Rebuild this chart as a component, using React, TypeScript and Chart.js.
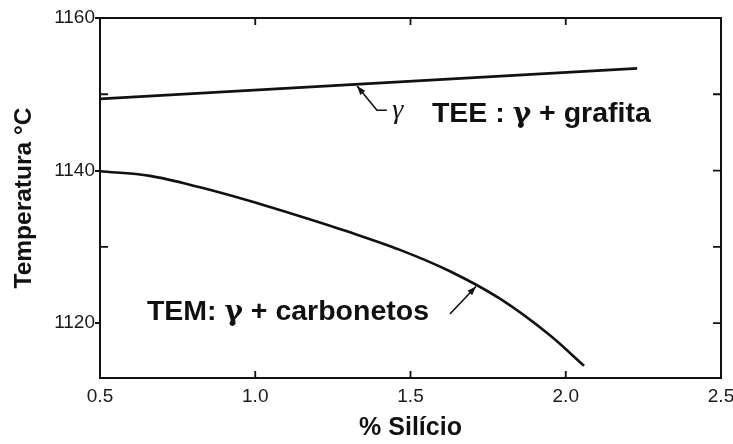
import { useEffect, useRef } from "react";
import { Chart, registerables } from "chart.js";

Chart.register(...registerables);

// Eutectic temperatures of cast iron versus silicon content
const teeSilicon = [0.5, 2.23];
const teeTemp = [1149.4, 1153.4];

const temSilicon = [0.5, 0.661, 0.822, 0.983, 1.144, 1.305, 1.466, 1.627, 1.788, 1.949, 2.059];
const temTemp = [1139.9, 1139.3, 1137.8, 1136.0, 1134.0, 1131.9, 1129.6, 1126.8, 1123.2, 1118.4, 1114.4];

const xTickValues = [0.5, 1.0, 1.5, 2.0, 2.5];
const yTickValues = [1120, 1130, 1140, 1150, 1160];
const yLabelledTicks = [1120, 1140, 1160];

const xTitle = "% Silício";
const yTitle = "Temperatura °C";

// phase labels, split so the Greek letter can use its own face
const teeText = ["TEE : ", "γ", " + grafita"];
const temText = ["TEM: ", "γ", " + carbonetos"];
const gammaText = "γ";

const INK = "#111111";
const SANS = "'Liberation Sans', Arial, sans-serif";
const TICK_FONT = { family: SANS, size: 19 };

// Frame, inward tick marks, leader arrows and phase labels
const annotationPlugin = {
  id: "phaseAnnotations",
  afterDatasetsDraw(chart: any) {
    const { ctx, chartArea } = chart;
    const xs = chart.scales.x;
    const ys = chart.scales.y;
    const { left, right, top, bottom } = chartArea;
    const px = (v: number) => xs.getPixelForValue(v);
    const py = (v: number) => ys.getPixelForValue(v);

    ctx.save();
    ctx.strokeStyle = INK;
    ctx.fillStyle = INK;
    ctx.lineCap = "butt";

    // top and right edges of the frame
    ctx.lineWidth = 2;
    ctx.beginPath();
    ctx.moveTo(left, top);
    ctx.lineTo(right, top);
    ctx.lineTo(right, bottom);
    ctx.stroke();

    // inward ticks
    ctx.lineWidth = 1.8;
    ctx.beginPath();
    xTickValues.forEach((v) => {
      if (v <= xs.min || v >= xs.max) return;
      const x = px(v);
      ctx.moveTo(x, bottom);
      ctx.lineTo(x, bottom - 7);
      ctx.moveTo(x, top);
      ctx.lineTo(x, top + 7);
    });
    yTickValues.forEach((v) => {
      if (v >= ys.max) return;
      const y = py(v);
      ctx.moveTo(right, y);
      ctx.lineTo(right - 8, y);
      if (!yLabelledTicks.includes(v)) {
        ctx.moveTo(left, y);
        ctx.lineTo(left + 8, y);
      }
    });
    ctx.stroke();

    const arrow = (pts: number[][]) => {
      const p = pts.map(([a, b]) => [px(a), py(b)]);
      ctx.lineWidth = 1.6;
      ctx.beginPath();
      ctx.moveTo(p[0][0], p[0][1]);
      for (let i = 1; i < p.length; i++) ctx.lineTo(p[i][0], p[i][1]);
      ctx.stroke();
      const ang = Math.atan2(p[0][1] - p[1][1], p[0][0] - p[1][0]);
      const len = 9;
      const half = 3.2;
      const bx = p[0][0] - len * Math.cos(ang);
      const by = p[0][1] - len * Math.sin(ang);
      ctx.beginPath();
      ctx.moveTo(p[0][0], p[0][1]);
      ctx.lineTo(bx + half * Math.sin(ang), by - half * Math.cos(ang));
      ctx.lineTo(bx - half * Math.sin(ang), by + half * Math.cos(ang));
      ctx.closePath();
      ctx.fill();
    };

    // leader from the γ label to the TEE line
    arrow([
      [1.328, 1151.1],
      [1.392, 1147.9],
      [1.424, 1147.9],
    ]);
    // leader from the TEM label to its curve
    arrow([
      [1.711, 1124.8],
      [1.627, 1121.2],
    ]);

    const sansBold = `bold 28.5px ${SANS}`;
    const greekBold = "bold 28px 'DejaVu Serif', 'Liberation Serif', serif";
    const drawParts = (parts: string[], x: number, y: number) => {
      let cx = x;
      parts.forEach((part, i) => {
        ctx.font = i === 1 ? greekBold : sansBold;
        ctx.fillText(part, cx, y);
        cx += ctx.measureText(part).width;
      });
    };

    ctx.textBaseline = "alphabetic";
    ctx.textAlign = "left";
    drawParts(teeText, px(1.569), py(1146.4));
    drawParts(temText, px(0.651), py(1120.4));

    ctx.font = "italic 28px 'Liberation Serif', 'Times New Roman', serif";
    ctx.fillText(gammaText, px(1.441), py(1146.9));

    ctx.restore();
  },
};

export default function App() {
  const canvasRef = useRef<HTMLCanvasElement>(null);

  useEffect(() => {
    const canvas = canvasRef.current;
    if (!canvas) return;

    const chart = new Chart(canvas, {
      type: "line",
      data: {
        datasets: [
          {
            label: "TEE",
            data: teeSilicon.map((x, i) => ({ x, y: teeTemp[i] })),
            borderColor: INK,
            borderWidth: 2.6,
            pointRadius: 0,
            fill: false,
          },
          {
            label: "TEM",
            data: temSilicon.map((x, i) => ({ x, y: temTemp[i] })),
            borderColor: INK,
            borderWidth: 2.6,
            pointRadius: 0,
            fill: false,
            cubicInterpolationMode: "monotone",
          },
        ],
      },
      options: {
        animation: false,
        responsive: true,
        maintainAspectRatio: false,
        layout: { padding: { top: 18, right: 12, left: 0, bottom: 0 } },
        plugins: {
          legend: { display: false },
          tooltip: { enabled: false },
        },
        scales: {
          x: {
            type: "linear",
            min: 0.5,
            max: 2.5,
            afterBuildTicks: (s: any) => {
              s.ticks = xTickValues.map((value) => ({ value }));
            },
            afterFit: (s: any) => {
              s.height = 66;
              s.paddingLeft = 0;
              s.paddingRight = 0;
            },
            ticks: {
              callback: (v: any) => Number(v).toFixed(1),
              font: TICK_FONT,
              color: "#1a1a1a",
              padding: 7,
              maxRotation: 0,
              autoSkip: false,
            },
            grid: { display: true, drawOnChartArea: false, drawTicks: false },
            border: { display: true, color: INK, width: 2 },
            title: {
              display: true,
              text: xTitle,
              color: INK,
              font: { family: SANS, size: 25, weight: "bold" },
              padding: { top: 0, bottom: 1 },
            },
          },
          y: {
            type: "linear",
            min: 1112.8,
            max: 1160,
            afterBuildTicks: (s: any) => {
              s.ticks = yTickValues.map((value) => ({ value }));
            },
            afterFit: (s: any) => {
              s.width = 100;
              s.paddingTop = 0;
              s.paddingBottom = 0;
            },
            ticks: {
              callback: (v: any) => (yLabelledTicks.includes(Number(v)) ? String(v) : ""),
              font: TICK_FONT,
              color: "#1a1a1a",
              padding: 0,
              autoSkip: false,
            },
            grid: {
              display: true,
              drawOnChartArea: false,
              drawTicks: true,
              tickLength: 5,
              lineWidth: 2,
              color: (c: any) =>
                c.tick && yLabelledTicks.includes(c.tick.value) ? INK : "rgba(0,0,0,0)",
            },
            border: { display: true, color: INK, width: 2 },
            title: {
              display: true,
              text: yTitle,
              color: INK,
              font: { family: SANS, size: 24.5, weight: "bold" },
              padding: { top: 10, bottom: 0 },
            },
          },
        },
      },
      plugins: [annotationPlugin],
    });

    return () => chart.destroy();
  }, []);

  return (
    <div
      style={{
        position: "fixed",
        left: 0,
        top: 0,
        width: 733,
        height: 444,
        background: "#ffffff",
      }}
    >
      <canvas ref={canvasRef} />
    </div>
  );
}
